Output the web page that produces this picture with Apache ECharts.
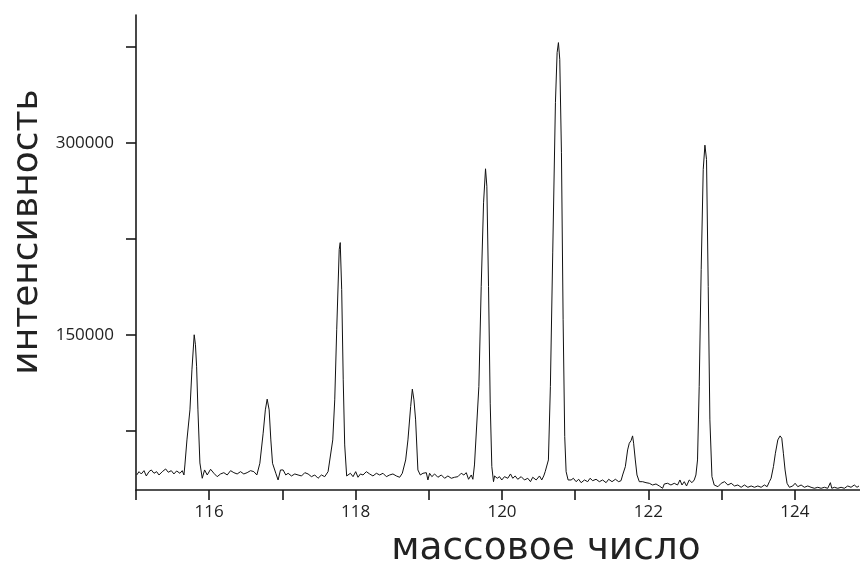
<!DOCTYPE html>
<html><head><meta charset="utf-8">
<script src="https://cdn.jsdelivr.net/npm/echarts@6/dist/echarts.min.js"></script>
<style>html,body{margin:0;padding:0;background:#fff}#c{width:860px;height:570px}</style>
</head><body><div id="c"></div>
<script>
// mass number (x) and intensity (y)
const mass = [
115.010,115.041,115.072,115.109,115.141,115.177,115.209,115.246,115.282,115.314,115.359,115.405,115.441,115.482,115.518,115.555,115.600,115.632,115.655,
115.668,115.696,115.737,115.764,115.795,115.812,115.828,115.846,115.873,115.905,
115.937,115.973,116.019,116.064,116.109,116.155,116.200,116.246,116.292,116.337,116.382,116.428,116.473,116.518,116.565,116.610,116.651,
116.692,116.737,116.767,116.792,116.819,116.842,116.865,116.910,116.941,116.974,
117.010,117.046,117.078,117.124,117.169,117.214,117.261,117.306,117.351,117.397,117.442,117.487,117.533,117.578,117.624,117.647,
117.688,117.715,117.742,117.776,117.790,117.810,117.831,117.851,117.878,
117.896,117.929,117.965,118.001,118.033,118.066,118.101,118.147,118.192,118.237,118.284,118.329,118.374,118.420,118.465,118.510,118.557,118.602,118.638,
118.684,118.715,118.752,118.775,118.797,118.820,118.851,118.884,118.920,118.966,118.988,
119.011,119.042,119.079,119.124,119.171,119.216,119.261,119.307,119.352,119.397,119.443,119.479,119.512,119.543,119.580,119.602,
119.624,119.648,119.684,119.716,119.748,119.775,119.793,119.816,119.839,119.861,119.884,
119.898,119.935,119.966,119.997,120.034,120.079,120.116,120.147,120.180,120.215,120.262,120.307,120.352,120.389,120.420,120.467,120.512,120.543,120.570,120.590,
120.634,120.661,120.693,120.730,120.753,120.771,120.789,120.812,120.835,120.857,120.876,120.903,
120.944,120.975,121.012,121.048,121.081,121.126,121.171,121.203,121.239,121.285,121.330,121.375,121.422,121.457,121.503,121.549,121.594,121.626,
121.648,121.685,121.716,121.739,121.763,121.784,121.798,121.821,121.844,121.876,
121.921,121.967,122.012,122.057,122.104,122.149,122.194,122.217,122.262,122.308,122.353,122.398,122.431,122.459,122.490,122.521,122.558,122.595,122.626,
122.649,122.671,122.694,122.721,122.749,122.772,122.794,122.817,122.840,122.868,122.899,
122.950,122.995,123.040,123.086,123.131,123.176,123.222,123.267,123.312,123.359,123.404,123.449,123.495,123.540,123.585,123.622,123.653,
123.676,123.708,123.735,123.768,123.799,123.822,123.844,123.867,123.894,123.926,
123.972,124.004,124.041,124.086,124.131,124.177,124.222,124.268,124.314,124.359,124.404,124.450,124.486,124.505,124.540,124.587,124.632,124.677,124.723,124.768,124.813,124.850,124.877
];
const intensity = [
40400,42990,41190,43770,39620,42990,44320,41730,42990,40400,42990,45100,42520,43770,41190,43530,41730,43770,40400,
48230,67810,91300,122600,150000,142200,124970,91300,49800,37820,
44320,40400,44870,41730,39070,41190,42200,40400,43770,42200,41190,42990,41190,42200,43770,42990,40400,
49560,73050,91300,99680,91300,67810,49560,41730,36490,44320,
44320,40400,41730,39620,41190,40400,39620,42200,41190,39070,40400,37820,40400,39070,42990,44320,
67810,99130,153900,216600,222060,185260,114790,63890,39620,
40400,41730,39070,42990,38600,41190,40400,42990,41190,39620,41730,40400,41730,39070,40400,41190,39620,38600,41730,
52150,67810,93880,107500,99130,83470,44320,40400,41730,42200,36490,
41730,39070,41190,38600,40400,37820,39620,37820,38600,39070,41730,40400,42200,37040,40400,37040,
48230,49560,109540,187840,253140,279770,266140,187840,96540,46900,35160,
39620,37820,39070,36490,39070,37820,41190,37820,39620,37040,39070,36490,37820,35160,38600,36490,39620,36490,39620,42990,
52150,109540,213990,331440,370590,378420,365350,292290,161770,70390,42990,36490,
36490,37820,35160,37040,34370,36490,35160,37820,35940,37040,35160,36490,34370,37040,35160,37040,35160,35940,
40400,46900,59980,65220,67260,70940,65220,52150,40400,35160,
35160,34370,33900,32570,33360,31790,29990,33360,33900,32570,33900,32570,36490,32570,35160,31790,36490,34370,36490,
40400,52150,109540,200920,279220,298240,287050,187840,83470,39070,32570,
31240,33900,35160,32570,33900,31790,32570,30770,32570,30770,31790,30770,31790,30770,32570,31240,35160,
37820,46900,57390,67810,70940,69140,57390,44320,33900,30770,
31790,33900,31240,32570,30770,31790,30770,29990,30770,29990,30770,29990,34370,29990,30770,29990,30770,29990,31790,30770,32570,30770,31790
];
const xTickValues = [115,116,117,118,119,120,121,122,123,124,125];
const xLabelValues = [116,118,120,122,124];
const yTickValues = [75000,150000,225000,300000,375000];
const yLabelValues = [150000,300000];
const xTitle = 'массовое число';
const yTitle = 'интенсивность';

const axisColor = '#1a1a1a';
const chart = echarts.init(document.getElementById('c'), null, {renderer:'canvas'});
chart.setOption({
  animation:false,
  backgroundColor:'#fff',
  grid:{left:136, top:15, width:732, bottom:80, containLabel:false, outerBoundsMode:'none'},
  xAxis:{
    type:'value', min:115, max:125, interval:1,
    axisLine:{show:true, onZero:false, lineStyle:{color:axisColor, width:1.6}},
    axisTick:{show:true, inside:false, length:10, customValues:xTickValues, lineStyle:{color:axisColor, width:1.6}},
    axisLabel:{customValues:xLabelValues, margin:14, fontSize:17, fontFamily:'Open Sans', color:'#222',
      formatter:(v)=>String(v)},
    splitLine:{show:false}
  },
  yAxis:{
    type:'value', min:28650, max:400000,
    axisLine:{show:true, onZero:false, lineStyle:{color:axisColor, width:1.6}},
    axisTick:{show:true, inside:false, length:10, customValues:yTickValues, lineStyle:{color:axisColor, width:1.6}},
    axisLabel:{customValues:yLabelValues, margin:22, fontSize:17, fontFamily:'Open Sans', color:'#222',
      formatter:(v)=>String(v)},
    splitLine:{show:false}
  },
  graphic:[
    {type:'text', x:28, y:232, rotation:Math.PI/2,
     style:{text:yTitle, font:'36px "DejaVu Sans"', fill:'#222', align:'center', verticalAlign:'middle'}},
    {type:'text', x:546, y:549,
     style:{text:xTitle, font:'37.5px "DejaVu Sans"', fill:'#222', align:'center', verticalAlign:'middle'}}
  ],
  series:[{
    type:'line', symbol:'none', showSymbol:false, clip:true,
    data: mass.map((m,i)=>[m, intensity[i]]),
    lineStyle:{color:'#111', width:1}
  }]
});
</script></body></html>
